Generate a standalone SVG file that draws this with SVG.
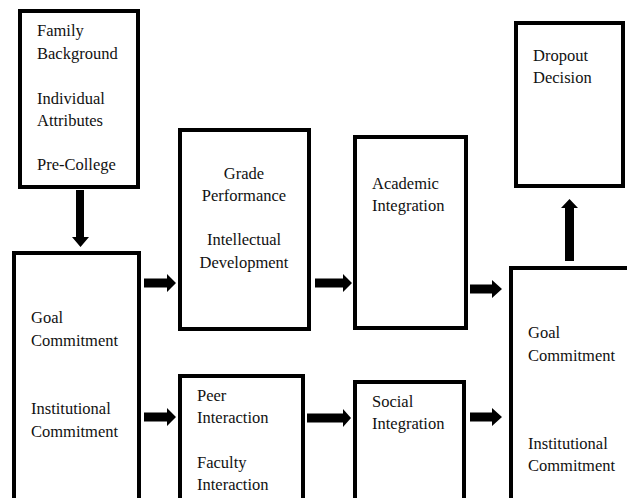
<svg xmlns="http://www.w3.org/2000/svg" width="627" height="498" viewBox="0 0 627 498">
<defs>
<rect id="unused-none" width="0" height="0"/>
</defs>
<rect width="627" height="498" fill="#fff"/>
<g id="connectors" fill="#000">
<polygon points="76,190 84,190 84,237 89,237 80.5,247 72,237 76,237"/>
<polygon points="144,278.5 167,278.5 167,274 176,283 167,292 167,287.5 144,287.5"/>
<polygon points="144,412.5 167,412.5 167,408 176,417 167,426 167,421.5 144,421.5"/>
<polygon points="315,278.5 343,278.5 343,274 352,283 343,292 343,287.5 315,287.5"/>
<polygon points="307,413.5 343,413.5 343,409 351,418 343,427 343,422.5 307,422.5"/>
<polygon points="470,284.5 492,284.5 492,280 502,289 492,298 492,293.5 470,293.5"/>
<polygon points="470,412.5 492,412.5 492,408 502,417 492,426 492,421.5 470,421.5"/>
<polygon points="565,261 574,261 574,208 578,208 569.5,199 561,208 565,208"/>
</g>
<g id="background">
<rect x="20" y="11" width="118" height="176" fill="#fff" stroke="#000" stroke-width="4"/>
<text x="37" y="36" font-family="Liberation Serif" font-size="16.5" fill="#111">Family</text>
<text x="37" y="59" font-family="Liberation Serif" font-size="16.5" fill="#111">Background</text>
<text x="37" y="104" font-family="Liberation Serif" font-size="16.5" fill="#111">Individual</text>
<text x="37" y="126" font-family="Liberation Serif" font-size="16.5" fill="#111">Attributes</text>
<text x="37" y="170" font-family="Liberation Serif" font-size="16.5" fill="#111">Pre-College</text>
</g>
<g id="commitments-initial">
<rect x="14" y="253" width="125" height="260" fill="#fff" stroke="#000" stroke-width="4"/>
<text x="31" y="323" font-family="Liberation Serif" font-size="16.5" fill="#111">Goal</text>
<text x="31" y="346" font-family="Liberation Serif" font-size="16.5" fill="#111">Commitment</text>
<text x="31" y="414" font-family="Liberation Serif" font-size="16.5" fill="#111">Institutional</text>
<text x="31" y="437" font-family="Liberation Serif" font-size="16.5" fill="#111">Commitment</text>
</g>
<g id="academic-system">
<rect x="180" y="130" width="129" height="199" fill="#fff" stroke="#000" stroke-width="4"/>
<text x="244" y="179" text-anchor="middle" font-family="Liberation Serif" font-size="16.5" fill="#111">Grade</text>
<text x="244" y="201" text-anchor="middle" font-family="Liberation Serif" font-size="16.5" fill="#111">Performance</text>
<text x="244" y="245" text-anchor="middle" font-family="Liberation Serif" font-size="16.5" fill="#111">Intellectual</text>
<text x="244" y="268" text-anchor="middle" font-family="Liberation Serif" font-size="16.5" fill="#111">Development</text>
</g>
<g id="social-system">
<rect x="180" y="376" width="123" height="140" fill="#fff" stroke="#000" stroke-width="4"/>
<text x="197" y="401" font-family="Liberation Serif" font-size="16.5" fill="#111">Peer</text>
<text x="197" y="423" font-family="Liberation Serif" font-size="16.5" fill="#111">Interaction</text>
<text x="197" y="468" font-family="Liberation Serif" font-size="16.5" fill="#111">Faculty</text>
<text x="197" y="490" font-family="Liberation Serif" font-size="16.5" fill="#111">Interaction</text>
</g>
<g id="academic-integration">
<rect x="355" y="137" width="111" height="191" fill="#fff" stroke="#000" stroke-width="4"/>
<text x="372" y="189" font-family="Liberation Serif" font-size="16.5" fill="#111">Academic</text>
<text x="372" y="211" font-family="Liberation Serif" font-size="16.5" fill="#111">Integration</text>
</g>
<g id="social-integration">
<rect x="355" y="382" width="109" height="130" fill="#fff" stroke="#000" stroke-width="4"/>
<text x="372" y="407" font-family="Liberation Serif" font-size="16.5" fill="#111">Social</text>
<text x="372" y="429" font-family="Liberation Serif" font-size="16.5" fill="#111">Integration</text>
</g>
<g id="dropout">
<rect x="516" y="23" width="107" height="163" fill="#fff" stroke="#000" stroke-width="4"/>
<text x="533" y="61" font-family="Liberation Serif" font-size="16.5" fill="#111">Dropout</text>
<text x="533" y="83" font-family="Liberation Serif" font-size="16.5" fill="#111">Decision</text>
</g>
<g id="commitments-later">
<rect x="511" y="268" width="130" height="240" fill="#fff" stroke="#000" stroke-width="4"/>
<text x="528" y="338" font-family="Liberation Serif" font-size="16.5" fill="#111">Goal</text>
<text x="528" y="361" font-family="Liberation Serif" font-size="16.5" fill="#111">Commitment</text>
<text x="528" y="449" font-family="Liberation Serif" font-size="16.5" fill="#111">Institutional</text>
<text x="528" y="471" font-family="Liberation Serif" font-size="16.5" fill="#111">Commitment</text>
</g>
</svg>
